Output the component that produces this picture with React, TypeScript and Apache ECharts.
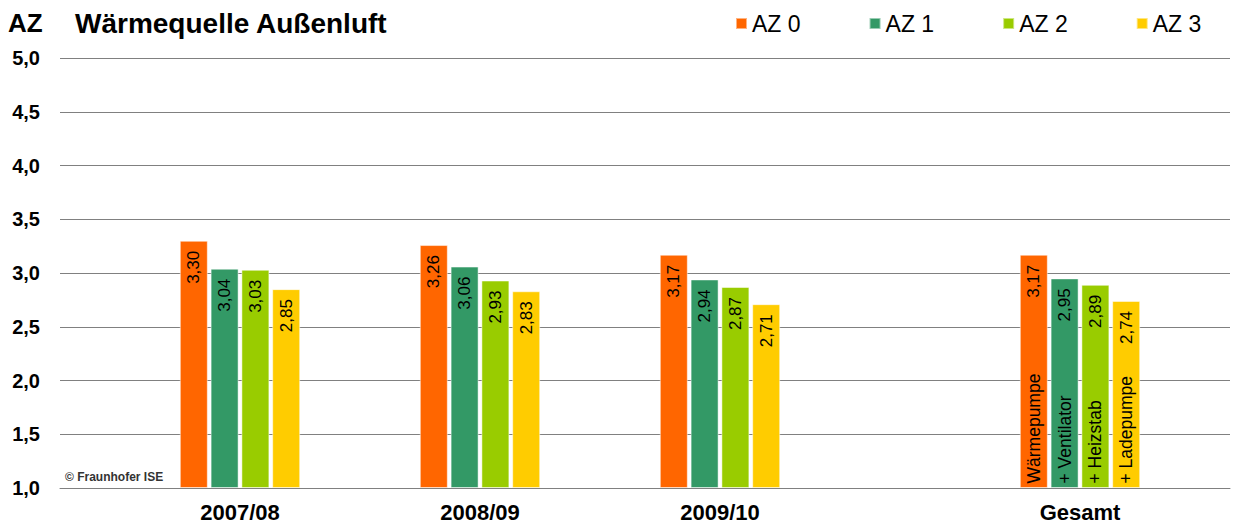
import React, { useEffect, useRef } from "react";
import * as echarts from "echarts";

const categories = ["2007/08", "2008/09", "2009/10", "Gesamt"];
const categoryPos = [1.5, 3.5, 5.5, 8.5];
const seriesNames = ["AZ 0", "AZ 1", "AZ 2", "AZ 3"];
const az0 = [3.3, 3.26, 3.17, 3.17];
const az1 = [3.04, 3.06, 2.94, 2.95];
const az2 = [3.03, 2.93, 2.87, 2.89];
const az3 = [2.85, 2.83, 2.71, 2.74];
const gesamtLabels = ["Wärmepumpe", "+ Ventilator", "+ Heizstab", "+ Ladepumpe"];
const colors = ["#FF6600", "#339966", "#99CC00", "#FFCC00"];
const yMin = 1;
const yMax = 5;
const yStep = 0.5;

const FONT = "'Liberation Sans', Arial, sans-serif";

export default function App() {
  const ref = useRef<HTMLDivElement>(null);
  useEffect(() => {
    document.body.style.margin = "0";
    if (!ref.current) return;
    const chart = echarts.init(ref.current, null, { renderer: "svg" });
    const values = [az0, az1, az2, az3];
    const series = values.map((vals, si) => ({
      name: seriesNames[si],
      type: "bar",
      barWidth: 28,
      barGap: "10%",
      itemStyle: { color: colors[si], borderColor: "rgba(255,255,255,0.5)", borderWidth: 1 },
      data: vals.map((v, i) => [categoryPos[i], v]),
      label: {
        show: true,
        position: "insideTop",
        distance: 10,
        rotate: 90,
        align: "right",
        verticalAlign: "middle",
        fontFamily: FONT,
        fontSize: 17,
        color: "#000",
        formatter: (p: any) => p.value[1].toFixed(2).replace(".", ","),
      },
      markPoint: {
        symbol: "circle",
        symbolSize: 1,
        itemStyle: { color: "rgba(0,0,0,0)" },
        data: [
          {
            coord: [categoryPos[3], 1.042],
            label: {
              show: true,
              position: "inside",
              rotate: 90,
              align: "left",
              verticalAlign: "middle",
              fontFamily: FONT,
              fontSize: 17.5,
              color: "#000",
              formatter: gesamtLabels[si],
            },
          },
        ],
      },
    }));
    chart.setOption({
      animation: false,
      color: colors,
      textStyle: { fontFamily: FONT },
      grid: { left: 60, right: 5, top: 58, bottom: 35 },
      legend: {
        left: 735,
        top: 12,
        padding: 0,
        itemWidth: 11,
        itemHeight: 11,
        itemGap: 68,
        icon: "rect",
        textStyle: { fontFamily: FONT, fontSize: 23, color: "#000" },
        data: seriesNames,
      },
      xAxis: {
        type: "value",
        min: 0,
        max: 9.75,
        interval: 0.5,
        splitLine: { show: false },
        axisTick: { show: false },
        axisLine: { show: true, lineStyle: { color: "#808080", width: 1 } },
        axisLabel: {
          margin: 13,
          fontFamily: FONT,
          fontSize: 22,
          fontWeight: "bold",
          color: "#000",
          showMinLabel: false,
          showMaxLabel: false,
          formatter: (v: number) => {
            const idx = categoryPos.findIndex((p) => Math.abs(p - v) < 1e-6);
            return idx >= 0 ? categories[idx] : "";
          },
        },
      },
      yAxis: {
        type: "value",
        min: yMin,
        max: yMax,
        interval: yStep,
        startValue: yMin,
        axisLine: { show: false },
        axisTick: { show: false },
        splitLine: { show: true, lineStyle: { color: "#808080", width: 1 } },
        axisLabel: {
          margin: 20,
          fontFamily: FONT,
          fontSize: 20,
          fontWeight: "bold",
          color: "#000",
          formatter: (v: number) => v.toFixed(1).replace(".", ","),
        },
      },
      graphic: [
        {
          type: "text",
          left: 8,
          top: 10,
          style: { text: "AZ", fontFamily: FONT, fontSize: 26, fontWeight: "bold", fill: "#000" },
        },
        {
          type: "text",
          left: 75,
          top: 9,
          style: { text: "Wärmequelle Außenluft", fontFamily: FONT, fontSize: 28, fontWeight: "bold", fill: "#000" },
        },
        {
          type: "text",
          left: 65,
          top: 471,
          style: { text: "© Fraunhofer ISE", fontFamily: FONT, fontSize: 12, fontWeight: "bold", fill: "#333" },
        },
      ],
      series,
    });
    return () => chart.dispose();
  }, []);
  return <div ref={ref} style={{ width: 1235, height: 523 }} />;
}
